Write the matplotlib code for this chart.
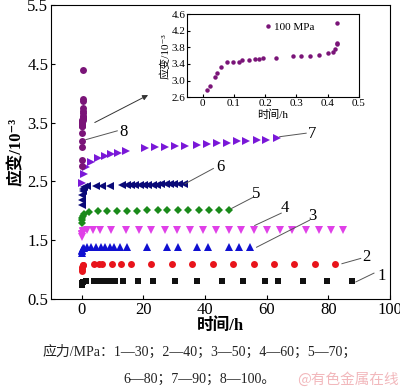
import numpy as np
import matplotlib
matplotlib.use("Agg")
import matplotlib.pyplot as plt

plt.rcParams['font.family'] = ['Liberation Serif', 'DejaVu Serif', 'Noto Sans CJK SC']
plt.rcParams['mathtext.fontset'] = 'stix'

# creep strain curves (strain in 1e-3, time in h)
s1_x = [0, 0.1, 0.2, 0.4, 1.2, 4.0, 5.6, 7.5, 9.1, 10.7, 13.3, 18.2, 23.1, 30.3, 37.3,
        45.4, 52.4, 59.6, 63.6, 71.7, 79.6, 87.6]
s1_y = [0.74, 0.76, 0.78, 0.79, 0.80, 0.81, 0.81, 0.81, 0.81, 0.81, 0.81, 0.81, 0.81,
        0.81, 0.81, 0.81, 0.81, 0.81, 0.81, 0.81, 0.81, 0.81]

s2_x = [0, 0.1, 0.2, 0.3, 0.5, 4.0, 5.6, 6.7, 9.9, 12.6, 16.0, 22.6, 29.3, 35.9, 42.5,
        49.1, 55.8, 62.5, 69.0, 75.6, 82.3]
s2_y = [0.98, 1.01, 1.04, 1.07, 1.08, 1.09, 1.09, 1.09, 1.09, 1.09, 1.09, 1.09, 1.09,
        1.09, 1.09, 1.09, 1.09, 1.09, 1.09, 1.09, 1.09]

s3_x = [0, 0.1, 0.2, 0.4, 0.7, 1.8, 3.1, 4.5, 6.1, 7.5, 9.1, 10.6, 12.3, 14.8, 21.2,
        27.7, 31.3, 37.5, 41.1, 47.8, 51.1, 54.5]
s3_y = [1.28, 1.31, 1.34, 1.36, 1.37, 1.38, 1.38, 1.38, 1.38, 1.38, 1.38, 1.38, 1.38,
        1.39, 1.39, 1.39, 1.39, 1.39, 1.39, 1.39, 1.39, 1.39]

s4_x = [0, 0.1, 0.2, 0.3, 0.5, 1.8, 3.5, 5.9, 9.4, 14.2, 18.5, 22.6, 26.9, 30.9, 35.0,
        39.3, 43.5, 47.7, 51.8, 56.0, 60.2, 64.2, 68.3, 72.6, 76.8, 80.9, 84.9]
s4_y = [1.55, 1.58, 1.61, 1.64, 1.66, 1.68, 1.68, 1.68, 1.68, 1.68, 1.68, 1.68, 1.68,
        1.68, 1.68, 1.68, 1.68, 1.68, 1.68, 1.68, 1.68, 1.68, 1.68, 1.68, 1.68, 1.68, 1.68]

s5_x = [0, 0.1, 0.2, 0.4, 0.7, 2.4, 5.1, 8.3, 11.5, 14.7, 18.0, 21.2, 24.6, 27.8, 31.2,
        34.6, 37.9, 41.3, 44.6, 47.8]
s5_y = [1.80, 1.84, 1.88, 1.91, 1.95, 1.98, 1.99, 2.00, 2.00, 2.00, 2.00, 2.01, 2.01,
        2.01, 2.01, 2.01, 2.01, 2.01, 2.02, 2.02]

s6_x = [0, 0.1, 0.2, 0.3, 0.5, 0.8, 1.8, 4.5, 6.7, 9.1, 13.1, 14.5, 15.9, 17.4, 18.8,
        20.2, 21.6, 23.0, 24.4, 25.8, 27.2, 28.6, 30.0, 31.5, 33.0]
s6_y = [2.10, 2.18, 2.27, 2.33, 2.37, 2.40, 2.42, 2.43, 2.43, 2.43, 2.44, 2.44, 2.44,
        2.44, 2.44, 2.44, 2.44, 2.44, 2.44, 2.45, 2.45, 2.45, 2.45, 2.45, 2.45]

s7_x = [0.2, 0.6, 1.5, 3.0, 5.2, 7.5, 9.5, 11.6, 14.2, 20.6, 23.9, 27.1, 30.3, 33.5,
        37.3, 40.5, 43.8, 47.2, 50.2, 53.4, 56.7, 59.9, 63.3]
s7_y = [2.47, 2.63, 2.74, 2.83, 2.90, 2.94, 2.97, 2.99, 3.01, 3.07, 3.08, 3.09, 3.10,
        3.11, 3.12, 3.14, 3.15, 3.16, 3.18, 3.19, 3.20, 3.21, 3.23]

s8_x = [0.015, 0.023, 0.039, 0.046, 0.060, 0.078, 0.097, 0.115, 0.127, 0.148, 0.169,
        0.181, 0.194, 0.234, 0.289, 0.316, 0.343, 0.371, 0.400, 0.416, 0.424, 0.429,
        0.430, 0.430]
s8_y = [2.77, 2.87, 3.08, 3.19, 3.33, 3.44, 3.45, 3.45, 3.49, 3.50, 3.51, 3.53, 3.54,
        3.55, 3.58, 3.58, 3.59, 3.62, 3.66, 3.69, 3.75, 3.87, 3.90, 4.39]

series = [
    (s1_x, s1_y, 's', '#111111', 4.8),
    (s2_x, s2_y, 'o', '#e8141b', 5),
    (s3_x, s3_y, '^', '#1010d0', 5.5),
    (s4_x, s4_y, 'v', '#e040e8', 5.5),
    (s5_x, s5_y, 'D', '#1a8a1a', 4.5),
    (s6_x, s6_y, '<', '#0a0a78', 5.5),
    (s7_x, s7_y, '>', '#7a18d8', 5.5),
    (s8_x, s8_y, 'o', '#7a1478', 5),
]

# label number, leader line start/end, text position
labels = ['1', '2', '3', '4', '5', '6', '7', '8']
label_start = [(88.9, 0.79), (84.4, 1.10), (56.7, 1.38), (56.1, 1.75),
               (48.6, 2.04), (33.5, 2.46), (64.2, 3.26), (1.3, 3.21)]
label_end = [(94.8, 0.94), (90.5, 1.19), (73.9, 1.84), (64.7, 1.96),
             (55.6, 2.23), (42.7, 2.72), (72.8, 3.32), (11.5, 3.36)]
label_txt = [(97.3, 0.89), (92.2, 1.22), (74.7, 1.91), (65.8, 2.04),
             (56.7, 2.29), (45.1, 2.75), (74.7, 3.31), (13.4, 3.34)]

fig = plt.figure(figsize=(4.0, 3.89), dpi=100)
ax = fig.add_axes([0.1275, 0.2314, 0.8475, 0.7557])

for x, y, m, c, ms in series:
    ax.plot(x, y, linestyle='none', marker=m, color=c, markersize=ms, markeredgewidth=0)

for (x0, y0), (x1, y1), (tx, ty), lab in zip(label_start, label_end, label_txt, labels):
    ax.plot([x0, x1], [y0, y1], color='#555555', linewidth=0.7)
    ax.text(tx, ty, lab, fontsize=12, ha='center', va='center')

ax.annotate('', xy=(22.3, 3.99), xytext=(3.4, 3.48),
            arrowprops=dict(arrowstyle='-|>', color='#333333', lw=0.7,
                            mutation_scale=8))

ax.set_xlim(-10, 100)
ax.set_ylim(0.5, 5.5)
ax.set_xticks([0, 20, 40, 60, 80, 100])
ax.set_yticks([0.5, 1.5, 2.5, 3.5, 4.5, 5.5])
ax.set_yticklabels(['0.5', '1.5', '2.5', '3.5', '4.5', '5.5'])
ax.tick_params(direction='in', labelsize=12, length=3, pad=2)
ax.set_xlabel('时间/h', fontsize=12, fontweight='bold', labelpad=0)
ax.set_ylabel('应变/10⁻³', fontsize=12, fontweight='bold', labelpad=2)

# inset with the 100 MPa curve
ins = fig.add_axes([0.4675, 0.750, 0.43, 0.214])
ins.plot(s8_x, s8_y, linestyle='none', marker='o', color='#7a1478',
         markersize=2.2, label='100 MPa')
ins.set_xlim(-0.05, 0.5)
ins.set_ylim(2.6, 4.6)
ins.set_xticks([0, 0.1, 0.2, 0.3, 0.4, 0.5])
ins.set_xticklabels(['0', '0.1', '0.2', '0.3', '0.4', '0.5'])
ins.set_yticks([2.6, 3.0, 3.4, 3.8, 4.2, 4.6])
ins.tick_params(direction='in', labelsize=8, length=2, pad=1)
ins.set_xlabel('时间/h', fontsize=8, labelpad=1)
ins.set_ylabel('应变/10⁻³', fontsize=8, labelpad=1)
ins.legend(loc='upper center', bbox_to_anchor=(0.6, 1.02), frameon=False, fontsize=8,
           handlelength=0.5, handletextpad=0.3, markerscale=1.0)

fig.text(0.5, 0.095, '应力/MPa：1—30；2—40；3—50；4—60；5—70；', fontsize=10,
         ha='center', va='center', color='#222222')
fig.text(0.5, 0.025, '6—80；7—90；8—100。', fontsize=10,
         ha='center', va='center', color='#222222')
fig.text(0.997, 0.025, '@有色金属在线', fontsize=10.5, ha='right', va='center',
         color='#f2b8bc', family=['Noto Sans CJK SC', 'DejaVu Sans'])

fig.savefig('out.png', dpi=100)
